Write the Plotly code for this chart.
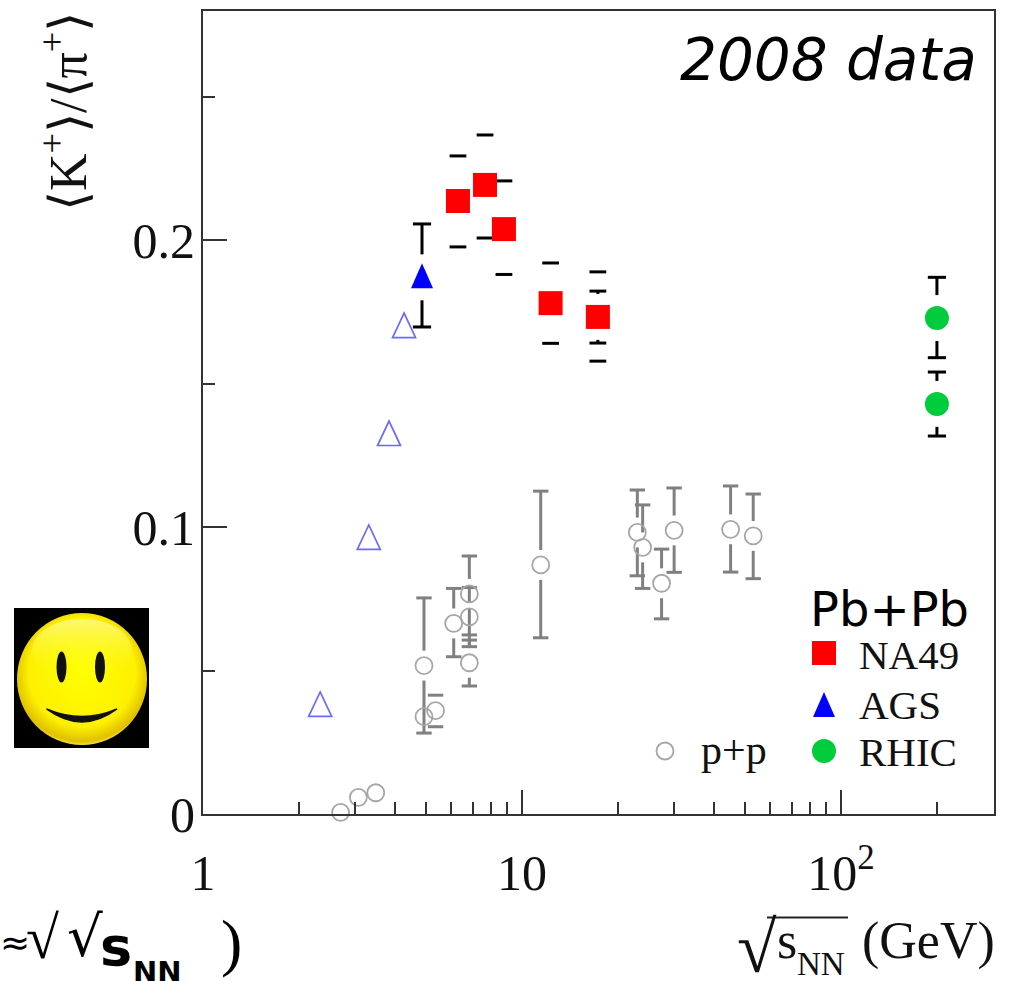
import base64
import plotly.graph_objects as go

# ---- data ----
na49_x = [6.3, 7.66, 8.78, 12.3, 17.3]
na49_y = [0.2136, 0.2192, 0.2038, 0.178, 0.1732]
na49_hi = [0.2293, 0.2366, 0.2206, 0.192, 0.1889]
na49_lo = [0.1976, 0.2007, 0.188, 0.164, 0.1578]
na49b_x = [17.3]
na49b_y = [0.1732]
na49b_hi = [0.1822]
na49b_lo = [0.1641]

ags_x = [4.86]
ags_y = [0.187]
ags_hi = [0.2056]
ags_lo = [0.1697]

ags_open_x = [2.33, 3.31, 3.83, 4.27]
ags_open_y = [0.038, 0.0962, 0.1324, 0.170]

rhic_x = [200, 200]
rhic_y = [0.1728, 0.1429]
rhic_hi = [0.187, 0.154]
rhic_lo = [0.159, 0.1317]

pp_x = [4.93, 5.36, 6.11, 6.84, 6.84, 6.84, 11.45, 23.0, 23.9, 27.4, 30.0, 45.1, 53.1]
pp_y = [0.0517, 0.036, 0.0664, 0.0767, 0.0687, 0.0527, 0.0868, 0.0981, 0.0929, 0.0804, 0.0988, 0.0992, 0.0969]
pp_hi = [0.0753, 0.0414, 0.0786, 0.0899, 0.0789, 0.0606, 0.1125, 0.1129, 0.1077, 0.0923, 0.1136, 0.1143, 0.1115]
pp_lo = [0.0282, 0.0304, 0.0548, 0.0624, 0.0583, 0.0446, 0.0614, 0.083, 0.0786, 0.068, 0.0842, 0.0843, 0.082]
pp_noerr_x = [2.70, 3.07, 3.48, 4.93]
pp_noerr_y = [0.0006, 0.0058, 0.0074, 0.0339]

x_ticks = [1, 10, 100]
x_labels = ["1", "10", "10<sup>2</sup>"]
x_minor = [2, 3, 4, 5, 6, 7, 8, 9, 20, 30, 40, 50, 60, 70, 80, 90, 200, 300]
y_ticks = [0, 0.1, 0.2]
y_labels = ["0", "0.1", "0.2"]
y_minor = [0.05, 0.15, 0.25]

W, H = 1012, 981
L, R, T, B = 203, 994, 11, 814
SERIF = "Liberation Serif"
SANS = "DejaVu Sans"
RED, BLUE, GREEN, GRAY = "#ff0000", "#0000ff", "#00cc3c", "#808080"
OPEN_BLUE = "#6a6aff"


def px(x):
    return (x - L) / (R - L)


def py(y):
    return (B - y) / (B - T)


fig = go.Figure()


def stems(xs, ys, his, los, gap, color):
    sx, sy = [], []
    for x, y, hi, lo in zip(xs, ys, his, los):
        if hi > y + gap:
            sx += [x, x, None]
            sy += [hi, y + gap, None]
        if lo < y - gap:
            sx += [x, x, None]
            sy += [lo, y - gap, None]
    fig.add_trace(go.Scatter(x=sx, y=sy, mode="lines", showlegend=False, hoverinfo="skip",
                             line=dict(color=color, width=3)))


def caps(xs, his, los, color, size=12):
    fig.add_trace(go.Scatter(x=list(xs) + list(xs), y=list(his) + list(los), mode="markers",
                             showlegend=False, hoverinfo="skip",
                             marker=dict(symbol="line-ew", size=size,
                                         line=dict(color=color, width=3))))


def points(xs, ys, symbol, size, color, line=None, name=None):
    fig.add_trace(go.Scatter(x=xs, y=ys, mode="markers", name=name, showlegend=False, cliponaxis=False,
                             marker=dict(symbol=symbol, size=size, color=color,
                                         line=line or dict(width=0))))


def tri_path(half, up, down):
    return f"M {-half} {-down} L {half} {-down} L 0 {up} Z"


def triangles(xs, ys, half, up, down, fill, line, xref="x", yref="y"):
    # plotly's own triangle marker is too squat, so anchor a pixel-sized path at each data point
    for x, y in zip(xs, ys):
        fig.add_shape(type="path", xref=xref, yref=yref, xsizemode="pixel", ysizemode="pixel",
                      xanchor=x, yanchor=y, path=tri_path(half, up, down),
                      fillcolor=fill, line=line, layer="above")


# p+p
stems(pp_x, pp_y, pp_hi, pp_lo, 0.0052, GRAY)
caps(pp_x, pp_hi, pp_lo, GRAY, 11)
CIRC = dict(color="#a6a6a6", width=1.8)
points(pp_x, pp_y, "circle-open", 17, "#a6a6a6", CIRC, "p+p")
points(pp_noerr_x, pp_noerr_y, "circle-open", 17, "#a6a6a6", CIRC, "p+p")

# AGS
points(ags_open_x, ags_open_y, "circle", 20, "rgba(0,0,0,0)", None, "AGS")
triangles(ags_open_x, ags_open_y, 11.5, 13, 11.5, "rgba(0,0,0,0)", dict(color=OPEN_BLUE, width=1.7))
stems(ags_x, ags_y, ags_hi, ags_lo, 0.0080, "#000000")
caps(ags_x, ags_hi, ags_lo, "#000000", 13)
points(ags_x, ags_y, "circle", 20, "rgba(0,0,0,0)", None, "AGS")
triangles(ags_x, ags_y, 11, 14, 11, BLUE, dict(width=0))

# NA49
caps(na49_x, na49_hi, na49_lo, "#000000", 12)
stems(na49b_x, na49b_y, na49b_hi, na49b_lo, 0.0080, "#000000")
caps(na49b_x, na49b_hi, na49b_lo, "#000000", 12)
points(na49_x, na49_y, "square", 24, RED, name="NA49")

# RHIC
stems(rhic_x, rhic_y, rhic_hi, rhic_lo, 0.0080, "#000000")
caps(rhic_x, rhic_hi, rhic_lo, "#000000", 13)
points(rhic_x, rhic_y, "circle", 24, GREEN, name="RHIC")


def label(text, x, y, size, family=SERIF, color="#111111", xanchor="left", yanchor="middle", **kw):
    fig.add_annotation(text=text, x=px(x), y=py(y), xref="paper", yref="paper", showarrow=False,
                       xanchor=xanchor, yanchor=yanchor, align="left",
                       font=dict(size=size, family=family, color=color),
                       borderpad=0, **kw)


# key
for mx, my, sym, sz, col in [(824, 653, "square", 24, RED), (824, 751, "circle", 24, GREEN)]:
    fig.add_trace(go.Scatter(x=[px(mx)], y=[py(my)], xaxis="x2", yaxis="y2", mode="markers",
                             showlegend=False, hoverinfo="skip",
                             marker=dict(symbol=sym, size=sz, color=col, line=dict(width=0))))
triangles([px(824)], [py(706)], 11, 14, 11, BLUE, dict(width=0), xref="x2", yref="y2")
fig.add_trace(go.Scatter(x=[px(665)], y=[py(751)], xaxis="x2", yaxis="y2", mode="markers",
                         showlegend=False, hoverinfo="skip",
                         marker=dict(symbol="circle-open", size=17, color="#a6a6a6", line=CIRC)))

label("Pb+Pb", 809, 609, 48, SANS, "#000000")
label("NA49", 858, 655, 41)
label("AGS", 858, 705, 41)
label("RHIC", 858, 752, 41)
label("p+p", 700, 750, 42)
label("<i>2008 data</i>", 679, 60, 58, SANS, "#000000")

# axis titles
label("\u27e8K<sup>+</sup>\u27e9/\u27e8\u03c0<sup>+</sup>\u27e9", 65, 112, 52, xanchor="center", textangle=-90)
label("\u221a", 736, 948, 72)
label("s", 776, 940, 52)
label("NN", 796, 964, 33)
label("(GeV)", 861, 941, 52)
fig.add_shape(type="line", xref="paper", yref="paper", x0=px(767), x1=px(848), y0=py(917.500), y1=py(917.500),
              line=dict(color="#222222", width=2))

# cut-off text at the lower left
label("\u2248", -1, 942, 36, SANS, "#000000")
label("\u221a", 25, 938, 60, SERIF, "#000000")
label("\u221a", 66, 936, 56, SANS, "#000000")
label("<b>s</b>", 99, 946, 54, SANS, "#000000")
label("<b>NN</b>", 132, 972, 29, SANS, "#000000")
label(")", 220, 942, 64, SERIF, "#000000")

# smiley
svg = """<svg xmlns='http://www.w3.org/2000/svg' width='135' height='140' viewBox='0 0 135 140'>
<defs>
<radialGradient id='g' cx='0.5' cy='0.45' r='0.55'>
<stop offset='0' stop-color='#ffff00'/><stop offset='0.75' stop-color='#fdf000'/>
<stop offset='0.95' stop-color='#e0c000'/><stop offset='1' stop-color='#f4e040'/>
</radialGradient>
<linearGradient id='h' x1='0' y1='0' x2='0' y2='1'>
<stop offset='0' stop-color='#ffffff' stop-opacity='0.45'/>
<stop offset='1' stop-color='#ffff00' stop-opacity='0'/>
</linearGradient>
</defs>
<rect width='135' height='140' fill='#000'/>
<ellipse cx='68' cy='71' rx='65' ry='66' fill='url(#g)'/>
<ellipse cx='68' cy='42' rx='50' ry='31' fill='url(#h)'/>
<ellipse cx='47.500' cy='59' rx='5' ry='15.500' fill='#111'/>
<ellipse cx='86' cy='59' rx='5' ry='15.500' fill='#111'/>
<path d='M32.500 101 Q68 127 103 101 Q68 116 32.500 101 Z' fill='#111' stroke='#111' stroke-width='1.500'/>
</svg>"""
uri = "data:image/svg+xml;base64," + base64.b64encode(svg.encode()).decode()
fig.add_layout_image(source=uri, xref="paper", yref="paper", x=px(14), y=py(608),
                     sizex=135 / (R - L), sizey=140 / (B - T), xanchor="left", yanchor="top",
                     sizing="stretch", layer="above")

AX = "#333333"
fig.update_layout(
    width=W, height=H, autosize=False, template=None, showlegend=False,
    paper_bgcolor="white", plot_bgcolor="white",
    margin=dict(l=L, r=W - R, t=T, b=H - B, pad=0),
    font=dict(family=SERIF, color="#111111"),
    xaxis=dict(type="log", range=[0, 2.48], showgrid=False, zeroline=False, showline=True, mirror=True,
               linecolor=AX, linewidth=2, tickmode="array", tickvals=x_ticks, ticktext=x_labels,
               ticks="inside", ticklen=24, tickwidth=2, tickcolor=AX,
               tickfont=dict(size=50, family=SERIF), ticklabelstandoff=14, tickangle=0,
               minor=dict(tickmode="array", tickvals=x_minor, ticks="inside", ticklen=12, tickwidth=2,
                          tickcolor=AX, showgrid=False)),
    yaxis=dict(range=[0, 0.2798], showgrid=False, zeroline=False, showline=True, mirror=True,
               linecolor=AX, linewidth=2, tickmode="array", tickvals=y_ticks, ticktext=y_labels,
               ticks="inside", ticklen=24, tickwidth=2, tickcolor=AX,
               tickfont=dict(size=50, family=SERIF), ticklabelstandoff=-4,
               minor=dict(tickmode="array", tickvals=y_minor, ticks="inside", ticklen=12, tickwidth=2,
                          tickcolor=AX, showgrid=False)),
    xaxis2=dict(domain=[0, 1], range=[0, 1], visible=False, overlaying="x", anchor="free", position=0),
    yaxis2=dict(domain=[0, 1], range=[0, 1], visible=False, overlaying="y", anchor="free", position=0),
)

fig.write_html("out.html", config={"displayModeBar": False},
               post_script="document.body.style.margin='0';document.documentElement.style.overflow='hidden';")
